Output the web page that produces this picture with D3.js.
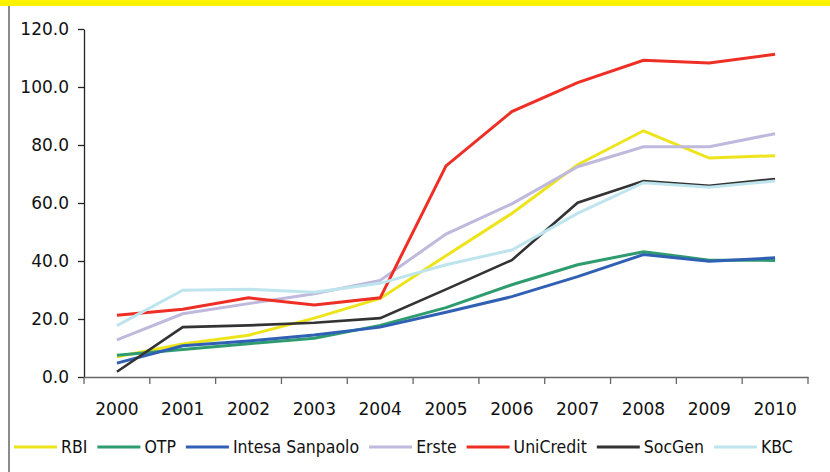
<!DOCTYPE html>
<html><head><meta charset="utf-8">
<script src="https://cdn.jsdelivr.net/npm/d3@7"></script>
<style>
html,body{margin:0;padding:0;background:#fff;}
svg{display:block;}
</style></head>
<body>
<svg id="chart" width="830" height="472"></svg>
<script>
const years = ["2000","2001","2002","2003","2004","2005","2006","2007","2008","2009","2010"];
const seriesNames = ["RBI","OTP","Intesa Sanpaolo","Erste","UniCredit","SocGen","KBC"];
const rbi       = [7.0, 11.4, 14.4, 20.3, 27.1, 41.8, 56.4, 73.2, 84.9, 75.5, 76.3];
const otp       = [7.5, 9.5, 11.5, 13.4, 17.8, 23.9, 31.8, 38.7, 43.2, 40.3, 40.2];
const intesa    = [4.8, 10.8, 12.4, 14.5, 17.2, 22.3, 27.7, 34.6, 42.2, 39.9, 41.1];
const erste     = [12.8, 21.8, 25.3, 28.7, 33.3, 49.3, 59.7, 72.5, 79.4, 79.4, 83.9];
const unicredit = [21.3, 23.4, 27.3, 24.8, 27.3, 72.8, 91.5, 101.5, 109.2, 108.3, 111.3];
const socgen    = [1.8, 17.2, 17.8, 18.7, 20.3, 30.2, 40.3, 60.1, 67.6, 65.9, 68.3];
const kbc       = [17.7, 29.9, 30.3, 29.2, 32.3, 38.7, 43.8, 56.4, 67.0, 65.4, 67.6];
const yTicks = [0, 20, 40, 60, 80, 100, 120];

const colors = ["#EEE41C","#2E9C6E","#3060B4","#BEB9DD","#EE2F26","#333333","#BEE5EE"];
const widths = [3, 3, 3, 3, 3, 2.6, 3];
const values = [rbi, otp, intesa, erste, unicredit, socgen, kbc];

const svg = d3.select("#chart");
const font = "'DejaVu Sans', sans-serif";

// decorative frame
svg.append("rect").attr("x",0).attr("y",0).attr("width",830).attr("height",6).attr("fill","#FFF200");
svg.append("line").attr("x1",9).attr("x2",9).attr("y1",6).attr("y2",472).attr("stroke","#666").attr("stroke-width",1.5);

const x = d3.scaleBand().domain(years).range([84, 808]);
const y = d3.scaleLinear().domain([0, 120]).range([377, 29]);

// Y axis
const yAxis = d3.axisLeft(y).tickValues(yTicks).tickFormat(d3.format(".1f")).tickSize(6).tickSizeOuter(0);
const gy = svg.append("g").attr("transform","translate(84,0)").call(yAxis);
gy.select(".domain").attr("stroke","#222").attr("stroke-width",1.3);
gy.selectAll(".tick line").attr("stroke","#222").attr("stroke-width",1.3);
gy.selectAll(".tick text").attr("x",-15).attr("font-family",font).attr("font-size",17).attr("fill","#111");

// X axis
const xAxis = d3.axisBottom(x).tickSize(0).tickSizeOuter(0);
const gx = svg.append("g").attr("transform","translate(0,377)").call(xAxis);
gx.select(".domain").attr("stroke","#666").attr("stroke-width",1.3);
gx.selectAll(".tick text").attr("y",26).attr("dy","0.71em").attr("font-family",font).attr("font-size",17).attr("fill","#111");
// boundary ticks between categories
const bounds = years.map(d => x(d)).concat([x(years[years.length-1]) + x.bandwidth()]);
gx.selectAll(".bound").data(bounds).enter().append("line")
  .attr("x1", d => d).attr("x2", d => d).attr("y1", 0).attr("y2", 7)
  .attr("stroke","#666").attr("stroke-width",1.3);

// lines
const line = d3.line().x((d,i) => x(years[i]) + x.bandwidth()/2).y(d => y(d));
values.forEach((vals, k) => {
  svg.append("path").datum(vals).attr("d", line)
    .attr("fill","none").attr("stroke", colors[k]).attr("stroke-width", widths[k])
    .attr("stroke-linejoin","miter");
});

// legend
const lg = svg.append("g").attr("transform","translate(0,447)");
let cx = 14;
seriesNames.forEach((name, k) => {
  lg.append("line").attr("x1",cx).attr("x2",cx+43).attr("y1",0).attr("y2",0)
    .attr("stroke",colors[k]).attr("stroke-width",3);
  const t = lg.append("text").attr("x",cx+47).attr("y",0).attr("dy","0.36em")
    .attr("font-family","'DejaVu Sans Condensed','DejaVu Sans',sans-serif").attr("font-size",17.5)
    .attr("fill","#111").text(name);
  cx += 47 + t.node().getComputedTextLength() + 10;
});
</script>
</body></html>
